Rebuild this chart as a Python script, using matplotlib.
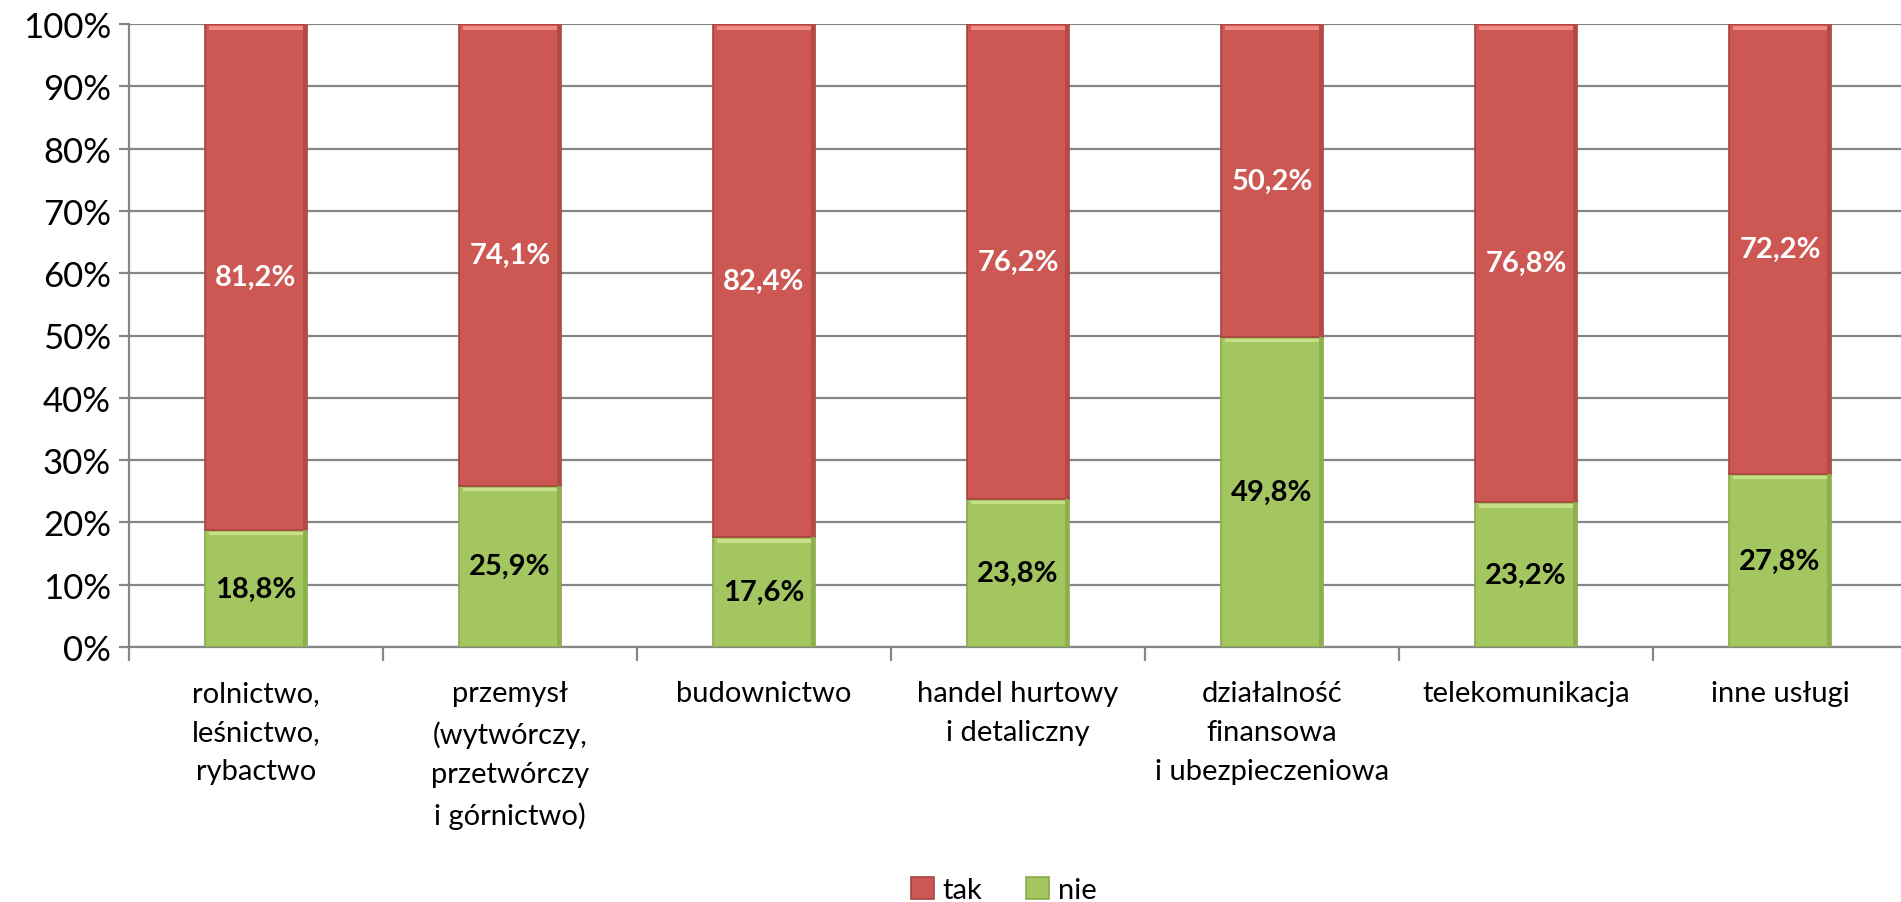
import matplotlib
matplotlib.use("Agg")
import matplotlib.pyplot as plt
import numpy as np

categories = ["rolnictwo,\nleśnictwo,\nrybactwo",
              "przemysł\n(wytwórczy,\nprzetwórczy\ni górnictwo)",
              "budownictwo",
              "handel hurtowy\ni detaliczny",
              "działalność\nfinansowa\ni ubezpieczeniowa",
              "telekomunikacja",
              "inne usługi"]
nie = [18.8, 25.9, 17.6, 23.8, 49.8, 23.2, 27.8]
tak = [81.2, 74.1, 82.4, 76.2, 50.2, 76.8, 72.2]
series_names = ["tak", "nie"]
y_ticks = [0, 10, 20, 30, 40, 50, 60, 70, 80, 90, 100]

plt.rcParams['font.family'] = ['Lato', 'DejaVu Sans']

W, H = 1901, 903
fig = plt.figure(figsize=(W/100, H/100), dpi=100)
ax = fig.add_axes([129/W, 1-648/H, (1907-129)/W, (648-25)/H])

red = "#CD5753"
green = "#A3C660"
x = np.arange(len(categories))
bw = 0.4
b_nie = ax.bar(x, nie, bw, color=green, edgecolor="#8AAA4A", linewidth=1.2, zorder=3, label=series_names[1])
b_tak = ax.bar(x, tak, bw, bottom=nie, color=red, edgecolor="#A8423E", linewidth=1.2, zorder=3, label=series_names[0])
# bevel highlight at top of segments, shadow on right
for i in range(len(x)):
    ax.bar(x[i], 0.6, bw*0.92, bottom=nie[i]+tak[i]-0.9, color="#F08A86", linewidth=0, zorder=4)
    ax.bar(x[i], 0.6, bw*0.92, bottom=nie[i]-0.9, color="#C8E08A", linewidth=0, zorder=4)
    ax.bar(x[i] + bw/2 - 0.008, tak[i], 0.016, bottom=nie[i], color="#B34A46", linewidth=0, zorder=4)
    ax.bar(x[i] + bw/2 - 0.008, nie[i], 0.016, bottom=0, color="#8DAF4E", linewidth=0, zorder=4)

for i in range(len(x)):
    ax.text(x[i], nie[i] + tak[i]/2, f"{tak[i]:.1f}%".replace(".", ","), ha="center", va="center",
            color="white", fontsize=21, fontweight="bold", zorder=5)
    ax.text(x[i], nie[i]/2, f"{nie[i]:.1f}%".replace(".", ","), ha="center", va="center",
            color="black", fontsize=21, fontweight="bold", zorder=5)

ax.set_xlim(-0.5, len(categories)-0.5)
ax.set_ylim(0, 100)
ax.set_yticks(y_ticks)
ax.set_yticklabels([f"{v}%" for v in y_ticks], fontsize=25)
ax.yaxis.grid(True, color="#868686", linewidth=1.6, zorder=0)
ax.set_axisbelow(True)
for s in ["top", "right"]:
    ax.spines[s].set_visible(False)
ax.spines["left"].set_color("#868686")
ax.spines["left"].set_linewidth(1.6)
ax.spines["bottom"].set_color("#868686")
ax.spines["bottom"].set_linewidth(1.6)
ax.tick_params(axis="y", length=7, width=1.6, color="#868686", pad=6)

ax.set_xticks(np.arange(len(categories)+1) - 0.5, minor=False)
ax.set_xticklabels([])
ax.tick_params(axis="x", which="major", length=10, width=1.6, color="#868686")
ax.set_xticks(x, minor=True)
ax.set_xticklabels(categories, minor=True, fontsize=21, linespacing=1.62, va="top")
ax.tick_params(axis="x", which="minor", length=0, pad=24)

# cut-off title descenders
fig.text(524/W, 1 + 14/H, "p", fontsize=28, fontweight="bold", ha="center", va="baseline")
fig.text(703/W, 1 + 14/H, "g", fontsize=28, fontweight="bold", ha="center", va="baseline")

handles = [b_tak, b_nie]
fig.legend(handles, series_names, loc="center", bbox_to_anchor=(0.528, 1-891/H), ncol=2, frameon=False,
           fontsize=21, handlelength=0.8, handleheight=0.8, columnspacing=1.5, handletextpad=0.3)

fig.savefig("out.png", dpi=100)
